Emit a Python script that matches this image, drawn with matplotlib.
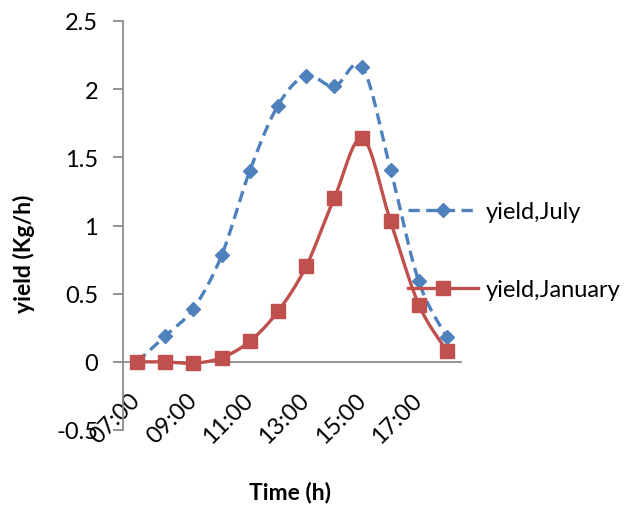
import numpy as np
import matplotlib.pyplot as plt
from matplotlib.lines import Line2D

# data
times = ['07:00', '08:00', '09:00', '10:00', '11:00', '12:00',
         '13:00', '14:00', '15:00', '16:00', '17:00', '18:00']
yield_july = [0.0, 0.19, 0.39, 0.78, 1.40, 1.88, 2.10, 2.02, 2.16, 1.41, 0.59, 0.18]
yield_january = [0.0, 0.0, -0.01, 0.03, 0.15, 0.37, 0.70, 1.20, 1.64, 1.03, 0.42, 0.08]

blue = '#4F81BD'
red = '#C0504D'
plt.rcParams['font.family'] = ['Lato', 'DejaVu Sans']


def smooth(x, y, n=20):
    # Excel-like smoothing: bezier with catmull-rom control points
    x = np.asarray(x, float)
    y = np.asarray(y, float)
    px = np.concatenate([[x[0]], x, [x[-1]]])
    py = np.concatenate([[y[0]], y, [y[-1]]])
    xs, ys = [], []
    t = np.linspace(0, 1, n)
    for i in range(1, len(x)):
        p0 = np.array([px[i], py[i]])
        p1 = p0 + (np.array([px[i + 1], py[i + 1]]) - np.array([px[i - 1], py[i - 1]])) / 6
        p3 = np.array([px[i + 1], py[i + 1]])
        p2 = p3 - (np.array([px[i + 2], py[i + 2]]) - p0) / 6
        b = ((1 - t) ** 3)[:, None] * p0 + (3 * (1 - t) ** 2 * t)[:, None] * p1 \
            + (3 * (1 - t) * t ** 2)[:, None] * p2 + (t ** 3)[:, None] * p3
        xs.extend(b[:, 0])
        ys.extend(b[:, 1])
    return xs, ys


fig = plt.figure(figsize=(6.29, 5.06), dpi=100)
ax = fig.add_axes([123 / 629, 1 - 431 / 506, (461 - 123) / 629, (431 - 22) / 506])

idx = np.arange(len(times))
dash = (0, (3.4, 1.9))

sx, sy = smooth(idx, yield_july)
ax.plot(sx, sy, color=blue, lw=2.4, linestyle=dash, zorder=2)
ax.plot(idx[1:], yield_july[1:], 'D', color=blue, ms=7, zorder=3)

sx, sy = smooth(idx, yield_january)
ax.plot(sx, sy, color=red, lw=2.4, zorder=4)
ax.plot(idx, yield_january, 's', color=red, ms=9.5, zorder=5)

ax.set_xlim(-0.5, len(times) - 0.5)
ax.set_ylim(-0.5, 2.5)
ax.set_yticks([-0.5, 0, 0.5, 1, 1.5, 2, 2.5])
ax.set_yticklabels(['-0.5', '0', '0.5', '1', '1.5', '2', '2.5'])

for s in ['top', 'right']:
    ax.spines[s].set_visible(False)
ax.spines['bottom'].set_position(('data', 0))
for s in ['left', 'bottom']:
    ax.spines[s].set_color('#8C8C8C')
    ax.spines[s].set_linewidth(1.3)
ax.tick_params(axis='y', length=7, width=1.3, color='#8C8C8C', pad=11, labelsize=17)
ax.tick_params(axis='x', length=0, pad=25, labelsize=17)
ax.set_xticks(idx[::2])
ax.set_xticklabels(times[::2], rotation=45, ha='right', va='center',
                   rotation_mode='anchor')

fig.text(290 / 629, 1 - 493 / 506, 'Time (h)', ha='center', va='center',
         fontsize=16.5, fontweight='bold')
fig.text(24 / 629, 1 - 254 / 506, 'yield (Kg/h)', ha='center', va='center',
         rotation=90, fontsize=16.5, fontweight='bold')

handles = [Line2D([], [], color=blue, lw=2.4, linestyle=dash, marker='D', ms=7),
           Line2D([], [], color=red, lw=2.4, marker='s', ms=9.5)]
fig.legend(handles, ['yield,July', 'yield,January'], loc='center left',
           bbox_to_anchor=(408 / 629, 1 - 251.5 / 506), frameon=False,
           fontsize=17, handlelength=2.95, handletextpad=0.34, labelspacing=2.4,
           borderpad=0, borderaxespad=0, numpoints=1)

fig.savefig('out.png', dpi=100)
